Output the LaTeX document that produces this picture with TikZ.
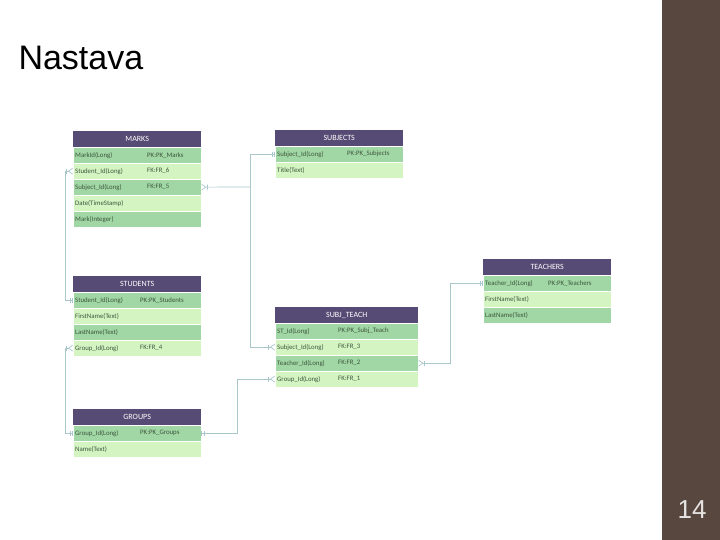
\documentclass[tikz,border=0pt]{standalone}
\usepackage{fontspec}
\setmainfont{Carlito}
\setsansfont{Liberation Sans}
\usetikzlibrary{arrows.meta,calc}
\definecolor{hdc}{HTML}{564B74}
\definecolor{dk}{HTML}{A0D7A4}
\definecolor{lt}{HTML}{D4F5C2}
\definecolor{lnk}{HTML}{A9C7CB}
\definecolor{txc}{HTML}{3E553E}
\definecolor{brn}{HTML}{57473F}
\tikzset{
  hd/.style={anchor=north west, fill=hdc, text=white, minimum height=16pt, inner sep=0pt, font=\fontsize{8}{9}\selectfont},
  row/.style={anchor=north west, minimum height=16pt, inner sep=0pt, draw=white, line width=0.3pt},
  txt/.style={anchor=west, inner xsep=2pt, inner ysep=0pt, text=txc, font=\fontsize{6.8}{8}\selectfont},
  one/.tip={Bar[width=5pt,sep=2pt]Bar[width=5pt]},
  many/.tip={Bar[width=5pt,sep=1pt]Straight Barb[reversed,width=6pt,length=4pt]},
  link/.style={draw=lnk, line width=0.7pt}
}
\begin{document}
\begin{tikzpicture}[x=1pt,y=-1pt]
\useasboundingbox (0,0) rectangle (720,540);
\fill[brn] (662,0) rectangle (720,540);
\node[anchor=west, font=\sffamily\fontsize{34}{36}\selectfont] (T) at (15,58) {Nastava};
\node[text=white!85!brn, font=\sffamily\fontsize{26}{28}\selectfont] (P) at (692,510) {14};

% MARKS
\node[hd, minimum width=128pt] (M) at (73,131) {MARKS};
\foreach \a/\b [count=\i] in {MarkId(Long)/PK:PK\_Marks, Student\_Id(Long)/FK:FR\_6,
  Subject\_Id(Long)/FK:FR\_5, Date(TimeStamp)/, Mark(Integer)/} {
  \ifodd\i \def\f{dk}\else\def\f{lt}\fi
  \node[row, minimum width=128pt, fill=\f] (M\i) at (73,{147+16*(\i-1)}) {};
  \node[txt] at (M\i.west) {\a};
  \node[txt] at ($(M\i.west)+(72,0)$) {\b};
}

% SUBJECTS
\node[hd, minimum width=128pt] (SU) at (275,130) {SUBJECTS};
\foreach \a/\b [count=\i] in {Subject\_Id(Long)/PK:PK\_Subjects, Title(Text)/} {
  \ifodd\i \def\f{dk}\else\def\f{lt}\fi
  \node[row, minimum width=128pt, fill=\f] (SU\i) at (275,{146+16*(\i-1)}) {};
  \node[txt] at (SU\i.west) {\a};
  \node[txt] at ($(SU\i.west)+(70,0)$) {\b};
}

% STUDENTS
\node[hd, minimum width=128pt] (S) at (73,276) {STUDENTS};
\foreach \a/\b [count=\i] in {Student\_Id(Long)/PK:PK\_Students, FirstName(Text)/,
  LastName(Text)/, Group\_Id(Long)/FK:FR\_4} {
  \ifodd\i \def\f{dk}\else\def\f{lt}\fi
  \node[row, minimum width=128pt, fill=\f] (S\i) at (73,{292+16*(\i-1)}) {};
  \node[txt] at (S\i.west) {\a};
  \node[txt] at ($(S\i.west)+(65,0)$) {\b};
}

% GROUPS
\node[hd, minimum width=128pt] (G) at (73,409) {GROUPS};
\foreach \a/\b [count=\i] in {Group\_Id(Long)/PK:PK\_Groups, Name(Text)/} {
  \ifodd\i \def\f{dk}\else\def\f{lt}\fi
  \node[row, minimum width=128pt, fill=\f] (G\i) at (73,{425+16*(\i-1)}) {};
  \node[txt] at (G\i.west) {\a};
  \node[txt] at ($(G\i.west)+(65,0)$) {\b};
}

% SUBJ_TEACH
\node[hd, minimum width=143pt] (ST) at (275,307) {SUBJ\_TEACH};
\foreach \a/\b [count=\i] in {ST\_Id(Long)/PK:PK\_Subj\_Teach, Subject\_Id(Long)/FK:FR\_3,
  Teacher\_Id(Long)/FK:FR\_2, Group\_Id(Long)/FK:FR\_1} {
  \ifodd\i \def\f{dk}\else\def\f{lt}\fi
  \node[row, minimum width=143pt, fill=\f] (ST\i) at (275,{323+16*(\i-1)}) {};
  \node[txt] at (ST\i.west) {\a};
  \node[txt] at ($(ST\i.west)+(61,0)$) {\b};
}

% TEACHERS
\node[hd, minimum width=128pt] (TE) at (483,259) {TEACHERS};
\foreach \a/\b [count=\i] in {Teacher\_Id(Long)/PK:PK\_Teachers, FirstName(Text)/,
  LastName(Text)/} {
  \ifodd\i \def\f{dk}\else\def\f{lt}\fi
  \node[row, minimum width=128pt, fill=\f] (TE\i) at (483,{275+16*(\i-1)}) {};
  \node[txt] at (TE\i.west) {\a};
  \node[txt] at ($(TE\i.west)+(63,0)$) {\b};
}

% relations
\coordinate (J) at (250,187);
\draw[link, many-one] (M2.west) -- ++(-8,0) |- (S1.west);
\draw[link, many-] (M3.east) -- (J);
\draw[link, -one] (J) |- (SU1.west);
\draw[link, -many] (J) |- (ST2.west);
\draw[link, many-one] (S4.west) -- ++(-8,0) |- (G1.west);
\draw[link, one-many] (G1.east) -- ++(36,0) |- (ST4.west);
\draw[link, many-one] (ST3.east) -- ++(32,0) |- (TE1.west);
\end{tikzpicture}
\end{document}
